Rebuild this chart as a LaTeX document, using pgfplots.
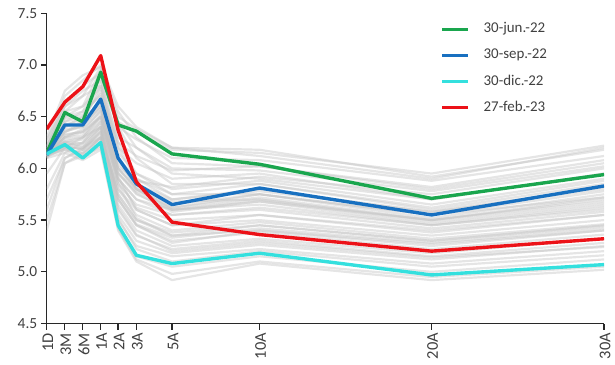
\documentclass[border=0pt]{standalone}
\usepackage{pgfplots}
\pgfplotsset{compat=1.18}
\usepackage{fontspec}
\setmainfont{Carlito}
\definecolor{cgreen}{RGB}{26,166,78}
\definecolor{cblue}{RGB}{24,112,192}
\definecolor{ccyan}{RGB}{52,224,222}
\definecolor{cred}{RGB}{236,18,24}
\definecolor{axc}{RGB}{40,40,40}
\definecolor{txc}{RGB}{64,64,64}
\pgfplotsset{gl/.style={draw=black!24, opacity=0.42, line width=2.2pt, line join=round, forget plot}}
% gray historical curves: 1D 3M 6M 1A 2A 3A 5A 10A 20A 30A
\newcommand\gc[9]{\def\gctmp{(0,#1)(1.04,#2)(2.07,#3)(3.1,#4)(4.1,#5)(5.15,#6)(7.2,#7)(12.23,#8)(22.11,#9)}\gcend}
\newcommand\gcend[1]{\edef\gcdo{\noexpand\addplot[gl] coordinates {\gctmp(32.02,#1)};}\gcdo}
\begin{document}
\begin{tikzpicture}
\begin{axis}[
 name=ax, scale only axis, width=560.3pt, height=312pt,
 xmin=0, xmax=32.02, ymin=4.5, ymax=7.5,
 axis x line*=bottom, axis y line*=left,
 axis line style={-, line width=1.4pt, color=axc},
 xtick={0,1.04,2.07,3.1,4.1,5.15,7.2,12.23,22.11,32.02},
 xticklabels={1D,3M,6M,1A,2A,3A,5A,10A,20A,30A},
 ytick={4.5,5,...,7.5},
 yticklabel style={/pgf/number format/.cd, fixed, fixed zerofill, precision=1},
 /pgf/number format/assume math mode=true,
 tick align=outside, major tick length=6pt,
 tick style={line width=1.3pt, color=axc},
 ticklabel style={font=\fontsize{15.5}{18}\selectfont, text=txc},
 xticklabel style={rotate=90, anchor=east, font=\fontsize{16.5}{18}\selectfont, yshift=-1pt},
 legend style={draw=none, fill=none, at={(0.7068,0.970)}, anchor=north west,
   inner sep=0pt, column sep=14pt, row sep=13.3pt,
   font=\fontsize{15}{18}\selectfont, text=txc,
   nodes={inner sep=0pt, text height=10pt, text depth=3pt}},
 legend cell align=left,
 legend image code/.code={\draw[#1, line width=3pt] (0pt,0pt) -- (26pt,0pt);},
]
\gc{6.15}{6.50}{6.55}{6.90}{6.45}{6.35}{6.18}{6.15}{5.95}{6.22}
\gc{6.18}{6.55}{6.60}{6.95}{6.50}{6.38}{6.20}{6.18}{5.92}{6.18}
\gc{6.12}{6.45}{6.50}{6.85}{6.40}{6.28}{6.10}{6.08}{5.88}{6.12}
\gc{6.20}{6.60}{6.70}{6.98}{6.55}{6.30}{6.05}{6.02}{5.80}{6.05}
\gc{6.10}{6.40}{6.45}{6.80}{6.30}{6.20}{6.00}{5.98}{5.78}{6.02}
\gc{6.14}{6.42}{6.48}{6.75}{6.20}{6.05}{5.90}{5.95}{5.70}{5.95}
\gc{6.16}{6.45}{6.55}{6.70}{6.15}{5.95}{5.80}{5.88}{5.65}{5.90}
\gc{6.12}{6.38}{6.40}{6.65}{6.10}{5.90}{5.75}{5.85}{5.60}{5.85}
\gc{6.15}{6.35}{6.45}{6.60}{6.05}{5.85}{5.70}{5.80}{5.58}{5.80}
\gc{6.13}{6.30}{6.38}{6.55}{6.00}{5.80}{5.65}{5.75}{5.52}{5.75}
\gc{6.10}{6.33}{6.35}{6.50}{5.95}{5.78}{5.62}{5.72}{5.50}{5.70}
\gc{6.17}{6.40}{6.50}{6.62}{6.00}{5.82}{5.68}{5.70}{5.48}{5.66}
\gc{6.12}{6.28}{6.30}{6.48}{5.90}{5.70}{5.60}{5.65}{5.45}{5.62}
\gc{6.14}{6.25}{6.28}{6.45}{5.85}{5.65}{5.55}{5.60}{5.42}{5.58}
\gc{6.11}{6.30}{6.32}{6.52}{5.88}{5.62}{5.50}{5.55}{5.38}{5.55}
\gc{6.16}{6.35}{6.42}{6.58}{5.92}{5.60}{5.45}{5.50}{5.35}{5.50}
\gc{6.13}{6.22}{6.25}{6.42}{5.80}{5.55}{5.40}{5.48}{5.32}{5.46}
\gc{6.12}{6.26}{6.30}{6.40}{5.75}{5.50}{5.38}{5.45}{5.30}{5.44}
\gc{6.15}{6.30}{6.35}{6.50}{5.85}{5.52}{5.35}{5.40}{5.27}{5.40}
\gc{6.14}{6.20}{6.20}{6.35}{5.70}{5.45}{5.30}{5.38}{5.22}{5.36}
\gc{6.12}{6.24}{6.22}{6.38}{5.65}{5.40}{5.25}{5.32}{5.18}{5.32}
\gc{6.13}{6.18}{6.15}{6.30}{5.60}{5.35}{5.22}{5.30}{5.15}{5.28}
\gc{6.15}{6.22}{6.18}{6.32}{5.55}{5.30}{5.18}{5.26}{5.12}{5.25}
\gc{6.11}{6.20}{6.14}{6.28}{5.50}{5.25}{5.15}{5.22}{5.08}{5.20}
\gc{6.14}{6.25}{6.20}{6.30}{5.52}{5.22}{5.10}{5.20}{5.05}{5.16}
\gc{6.12}{6.18}{6.10}{6.22}{5.45}{5.15}{5.05}{5.15}{5.00}{5.12}
\gc{6.13}{6.20}{6.12}{6.20}{5.42}{5.12}{4.98}{5.10}{4.95}{5.05}
\gc{6.10}{6.15}{6.08}{6.18}{5.40}{5.10}{4.92}{5.08}{4.92}{5.02}
\gc{5.40}{6.05}{6.15}{6.30}{5.80}{5.60}{5.45}{5.55}{5.40}{5.55}
\gc{5.60}{6.10}{6.20}{6.40}{5.90}{5.70}{5.55}{5.62}{5.45}{5.60}
\gc{5.80}{6.15}{6.25}{6.45}{5.95}{5.75}{5.60}{5.70}{5.50}{5.68}
\gc{5.95}{6.20}{6.30}{6.50}{6.00}{5.80}{5.62}{5.75}{5.55}{5.72}
\gc{5.70}{6.10}{6.18}{6.35}{5.75}{5.50}{5.35}{5.45}{5.30}{5.45}
\gc{5.50}{6.05}{6.12}{6.30}{5.70}{5.45}{5.28}{5.40}{5.25}{5.40}
\gc{6.25}{6.70}{6.85}{7.00}{6.60}{6.40}{6.20}{6.12}{5.90}{6.20}
\gc{6.30}{6.75}{6.90}{6.98}{6.45}{6.20}{5.95}{5.90}{5.70}{5.95}
\gc{6.20}{6.65}{6.80}{6.92}{6.40}{6.10}{5.85}{5.85}{5.62}{5.88}
\gc{6.28}{6.60}{6.75}{6.85}{6.25}{5.95}{5.75}{5.75}{5.55}{5.78}
\gc{6.22}{6.55}{6.70}{6.80}{6.20}{5.90}{5.70}{5.78}{5.58}{5.82}
\gc{6.18}{6.50}{6.60}{6.78}{6.10}{5.80}{5.60}{5.68}{5.50}{5.72}
\gc{6.16}{6.48}{6.52}{6.72}{6.25}{6.12}{5.98}{6.02}{5.82}{6.08}
\gc{6.14}{6.36}{6.40}{6.60}{6.02}{5.88}{5.82}{5.92}{5.75}{6.00}
\gc{6.12}{6.32}{6.36}{6.56}{5.96}{5.76}{5.58}{5.68}{5.46}{5.64}
\gc{6.14}{6.22}{6.18}{6.36}{5.62}{5.36}{5.20}{5.28}{5.14}{5.24}
\gc{6.15}{6.26}{6.24}{6.40}{5.72}{5.46}{5.33}{5.42}{5.28}{5.42}
\addplot[cgreen, line width=3.4pt, line join=round] coordinates {(0,6.15)(1.04,6.54)(2.07,6.45)(3.1,6.93)(4.1,6.42)(5.15,6.36)(7.2,6.14)(12.23,6.04)(22.11,5.71)(32.02,5.94)};
\addlegendentry{30-jun.-22}
\addplot[cblue, line width=3.4pt, line join=round] coordinates {(0,6.13)(1.04,6.42)(2.07,6.42)(3.1,6.67)(4.1,6.10)(5.15,5.85)(7.2,5.65)(12.23,5.81)(22.11,5.55)(32.02,5.83)};
\addlegendentry{30-sep.-22}
\addplot[ccyan, line width=3.4pt, line join=round] coordinates {(0,6.14)(1.04,6.23)(2.07,6.10)(3.1,6.25)(4.1,5.45)(5.15,5.16)(7.2,5.08)(12.23,5.18)(22.11,4.97)(32.02,5.07)};
\addlegendentry{30-dic.-22}
\addplot[cred, line width=3.4pt, line join=round] coordinates {(0,6.38)(1.04,6.64)(2.07,6.79)(3.1,7.09)(4.1,6.37)(5.15,5.87)(7.2,5.48)(12.23,5.36)(22.11,5.20)(32.02,5.32)};
\addlegendentry{27-feb.-23}
\end{axis}
\pgfresetboundingbox
\path ([xshift=-47pt,yshift=13.3pt]ax.north west) rectangle ([xshift=11pt,yshift=-40.7pt]ax.south east);
\end{tikzpicture}
\end{document}
